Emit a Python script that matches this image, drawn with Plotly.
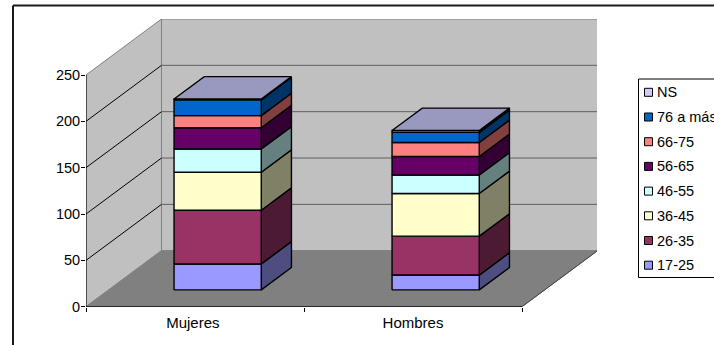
import plotly.graph_objects as go

WIDTH, HEIGHT = 714, 345

categories = ["Mujeres", "Hombres"]
category_label_positions = [0.49, 1.5]
value_ticks = [0, 50, 100, 150, 200, 250]

# Age groups from the bottom of the stack to the top
age_groups = ["17-25", "26-35", "36-45", "46-55", "56-65", "66-75", "76 a más", "NS"]
mujeres = [28, 58, 41, 25, 23, 13, 17, 1]
hombres = [16, 42, 46, 20, 20, 15, 11, 2]

front_colors = ["#9999FF", "#993366", "#FFFFCC", "#CCFFFF", "#660066", "#FF8080", "#0066CC", "#CCCCFF"]
side_colors = ["#4D4D80", "#4D1A33", "#808066", "#668080", "#330033", "#804040", "#003366", "#666680"]
top_color = "#9999BF"

# Pixel layout of the plot box
PX_LEFT, PX_RIGHT = 86.0, 597.0
PX_BOTTOM, PX_TOP = 306.7, 19.0
PX_PER_CATEGORY = 218.0
PX_PER_UNIT = 231.7 / 250

# Oblique projection: how far one full unit of depth moves a point
DEPTH_X = 75.5 / PX_PER_CATEGORY
DEPTH_Y = 56.0 / PX_PER_UNIT
VALUE_MAX = value_ticks[-1]
N_CAT = len(categories)

BAR_NEAR, BAR_FAR = 0.3, 0.7
BAR_LEFT, BAR_RIGHT = 0.3, 0.7
BAR_LINE = 1.4


def project(x, value, depth):
    return x + depth * DEPTH_X, value + depth * DEPTH_Y


def poly(points, fill=None, line="#808080", width=1.0):
    xs, ys = zip(*[project(*p) for p in points + points[:1]])
    return go.Scatter(
        x=xs, y=ys, mode="lines",
        fill="toself" if fill else "none",
        fillcolor=fill,
        line=dict(color=line, width=width),
        cliponaxis=False, hoverinfo="skip", showlegend=False,
    )


def edge(p, q, color, width=1.0):
    xs, ys = zip(project(*p), project(*q))
    return go.Scatter(
        x=xs, y=ys, mode="lines", line=dict(color=color, width=width),
        cliponaxis=False, hoverinfo="skip", showlegend=False,
    )


fig = go.Figure()

# Walls and floor of the 3D box
fig.add_trace(poly([(0, 0, 0), (0, 0, 1), (0, VALUE_MAX, 1), (0, VALUE_MAX, 0)], fill="#C0C0C0"))
fig.add_trace(poly([(0, 0, 1), (N_CAT, 0, 1), (N_CAT, VALUE_MAX, 1), (0, VALUE_MAX, 1)], fill="#C0C0C0"))
fig.add_trace(poly([(0, 0, 0), (N_CAT, 0, 0), (N_CAT, 0, 1), (0, 0, 1)], fill="#808080"))

# Gridlines wrap around the side wall and the back wall
for v in value_ticks[1:-1]:
    fig.add_trace(edge((0, v, 0), (0, v, 1), "#000000"))
    fig.add_trace(edge((0, v, 1), (N_CAT, v, 1), "#606060"))

# Front edges of the box
fig.add_trace(edge((0, 0, 0), (0, VALUE_MAX, 0), "#000000"))
fig.add_trace(edge((0, 0, 0), (N_CAT, 0, 0), "#000000", 1.2))
fig.add_trace(edge((N_CAT, 0, 0), (N_CAT, 0, 1), "#404040"))

# Stacked columns, painted bottom to top
for i, series in enumerate([mujeres, hombres]):
    x0, x1 = i + BAR_LEFT, i + BAR_RIGHT
    base = 0
    for value, front, side in zip(series, front_colors, side_colors):
        top = base + value
        fig.add_trace(poly([(x1, base, BAR_NEAR), (x1, base, BAR_FAR), (x1, top, BAR_FAR), (x1, top, BAR_NEAR)],
                           fill=side, line="#000000", width=BAR_LINE))
        fig.add_trace(poly([(x0, base, BAR_NEAR), (x1, base, BAR_NEAR), (x1, top, BAR_NEAR), (x0, top, BAR_NEAR)],
                           fill=front, line="#000000", width=BAR_LINE))
        base = top
    fig.add_trace(poly([(x0, base, BAR_NEAR), (x1, base, BAR_NEAR), (x1, base, BAR_FAR), (x0, base, BAR_FAR)],
                       fill=top_color, line="#000000", width=BAR_LINE))

FONT = dict(family="Liberation Sans, Arial, sans-serif", size=14.5, color="#000000")

# Chart frame, cut off by the page on the right and bottom
shapes = [
    dict(type="line", xref="paper", yref="paper", x0=13 / WIDTH, x1=1, y0=1 - 5.5 / HEIGHT, y1=1 - 5.5 / HEIGHT,
         line=dict(color="#1A1A1A", width=2)),
    dict(type="line", xref="paper", yref="paper", x0=13 / WIDTH, x1=13 / WIDTH, y0=0, y1=1 - 5.5 / HEIGHT,
         line=dict(color="#1A1A1A", width=2)),
    # Legend box
    dict(type="rect", xref="paper", yref="paper", x0=638.5 / WIDTH, x1=1.01, y0=1 - 277.5 / HEIGHT, y1=1 - 79 / HEIGHT,
         fillcolor="#FFFFFF", line=dict(color="#000000", width=1)),
]
annotations = []

LEGEND_FIRST_ROW = 92.3
LEGEND_ROW_STEP = 24.7
for row, idx in enumerate(reversed(range(len(age_groups)))):
    cy = LEGEND_FIRST_ROW + row * LEGEND_ROW_STEP
    shapes.append(dict(type="rect", xref="paper", yref="paper",
                       x0=644.5 / WIDTH, x1=652.5 / WIDTH,
                       y0=1 - (cy + 4) / HEIGHT, y1=1 - (cy - 4) / HEIGHT,
                       fillcolor=front_colors[idx], line=dict(color="#000000", width=1)))
    annotations.append(dict(text=age_groups[idx], xref="paper", yref="paper",
                            x=655.5 / WIDTH, y=1 - cy / HEIGHT, xanchor="left", yanchor="middle",
                            showarrow=False, font=FONT, borderpad=0))

x_range = [0, (PX_RIGHT - PX_LEFT) / PX_PER_CATEGORY]
x_domain = [PX_LEFT / WIDTH, PX_RIGHT / WIDTH]

fig.update_layout(
    width=WIDTH, height=HEIGHT,
    margin=dict(l=0, r=0, t=0, b=0, autoexpand=False),
    paper_bgcolor="#FFFFFF", plot_bgcolor="rgba(0,0,0,0)",
    showlegend=False,
    font=FONT,
    shapes=shapes,
    annotations=annotations,
    xaxis=dict(domain=x_domain, range=x_range, tickmode="array", tickvals=list(range(N_CAT + 1)),
               ticktext=[""] * (N_CAT + 1), ticks="outside", ticklen=4, tickcolor="#000000", automargin=False,
               showgrid=False, zeroline=False, showline=False, fixedrange=True),
    xaxis2=dict(domain=x_domain, range=x_range, overlaying="x", anchor="y", side="bottom",
                tickmode="array", tickvals=category_label_positions, ticktext=categories,
                ticks="", ticklabelstandoff=5, showgrid=False, zeroline=False, showline=False, automargin=False,
                tickfont=dict(FONT, size=15), fixedrange=True),
    yaxis=dict(domain=[1 - PX_BOTTOM / HEIGHT, 1 - PX_TOP / HEIGHT],
               range=[0, (PX_BOTTOM - PX_TOP) / PX_PER_UNIT], automargin=False,
               tickmode="array", tickvals=value_ticks, ticks="outside", ticklen=4, tickcolor="#000000",
               ticklabelstandoff=-2, showgrid=False, zeroline=False, showline=False, tickfont=FONT, fixedrange=True),
)

# An empty trace so the label axis is drawn
fig.add_trace(go.Scatter(x=[None], y=[None], xaxis="x2", yaxis="y", hoverinfo="skip", showlegend=False))

fig.write_html("out.html", config=dict(displayModeBar=False))
